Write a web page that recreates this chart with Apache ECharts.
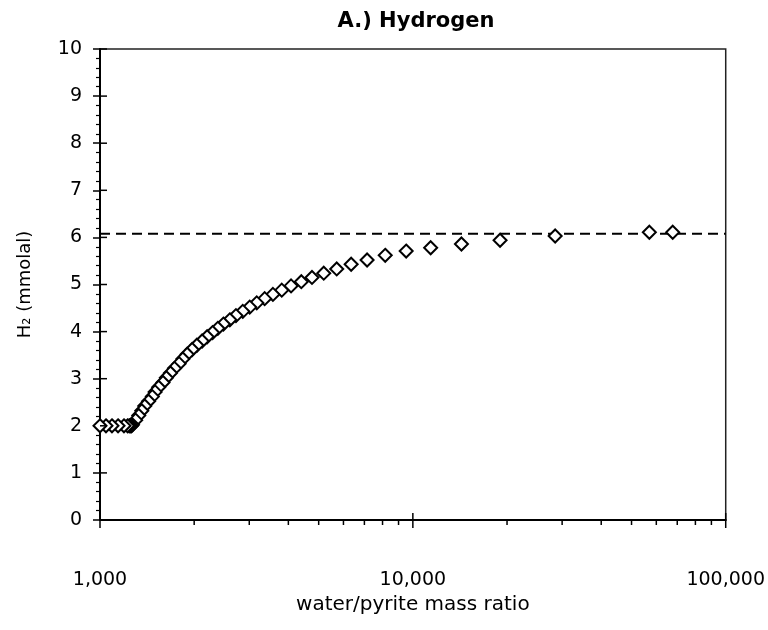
<!DOCTYPE html>
<html>
<head>
<meta charset="utf-8">
<script src="https://cdn.jsdelivr.net/npm/echarts@6/dist/echarts.min.js"></script>
<style>
  html, body { margin: 0; padding: 0; background: #fff; }
  #chart { width: 768px; height: 630px; }
</style>
</head>
<body>
<div id="chart"></div>
<script>
// Water/pyrite mass ratio (x) and dissolved H2 in mmolal (y), drawn high ratio -> low ratio
const ratio = [
  67700, 57000, 28500, 19000, 14300, 11400, 9520, 8160, 7140, 6350,
  5710, 5190, 4760, 4400, 4080, 3810, 3570, 3360, 3170, 3010,
  2860, 2720, 2600, 2480, 2380, 2290, 2200, 2120, 2040, 1970,
  1900, 1840, 1790, 1730, 1680, 1630, 1590, 1540, 1500, 1470,
  1430, 1390, 1360, 1330, 1300, 1270, 1260, 1250, 1240, 1225,
  1193, 1142, 1092, 1045, 1000
];
const h2 = [
  6.11, 6.11, 6.03, 5.94, 5.86, 5.78, 5.71, 5.62, 5.52, 5.43,
  5.33, 5.24, 5.15, 5.06, 4.97, 4.88, 4.79, 4.70, 4.61, 4.52,
  4.43, 4.34, 4.25, 4.16, 4.07, 3.98, 3.89, 3.80, 3.71, 3.62,
  3.52, 3.42, 3.32, 3.22, 3.12, 3.02, 2.92, 2.82, 2.72, 2.62,
  2.52, 2.42, 2.32, 2.22, 2.12, 2.02, 2.00, 2.00, 2.00, 2.00,
  2.00, 2.00, 2.00, 2.00, 2.00
];

// Saturation level shown as the dashed reference line
const refRatio = [1000, 100000];
const refH2 = [6.08, 6.08];

// Axis tick positions
const xMajorTicks = [1000, 10000, 100000];
const xMinorTicks = [2000, 3000, 4000, 5000, 6000, 7000, 8000, 9000,
                     20000, 30000, 40000, 50000, 60000, 70000, 80000, 90000];
const yMajorTicks = [0, 1, 2, 3, 4, 5, 6, 7, 8, 9, 10];

const FONT = 'DejaVu Sans';

const chart = echarts.init(document.getElementById('chart'), null, { renderer: 'canvas' });

const points = ratio.map((r, i) => [r, h2[i]]);
const refLine = refRatio.map((r, i) => [r, refH2[i]]);

const xTickData = xMajorTicks.map(v => [v, 0, 1]).concat(xMinorTicks.map(v => [v, 0, 0]));
const yTickData = yMajorTicks.map(v => [1000, v]);

chart.setOption({
  animation: false,
  backgroundColor: '#ffffff',
  title: {
    text: 'A.) Hydrogen',
    left: 411,
    top: 6,
    textAlign: 'center',
    textStyle: { fontFamily: FONT, fontSize: 21, fontWeight: 'bold', color: '#000' }
  },
  grid: {
    left: 100, right: 41, top: 49, bottom: 110,
    show: true, borderColor: '#222', borderWidth: 1.5, backgroundColor: 'transparent'
  },
  xAxis: {
    type: 'log',
    logBase: 10,
    min: 1000,
    max: 100000,
    name: 'water/pyrite mass ratio',
    nameLocation: 'middle',
    nameGap: 75,
    nameTextStyle: { fontFamily: FONT, fontSize: 20, color: '#000' },
    axisLine: { show: true, lineStyle: { color: '#000', width: 2 } },
    axisTick: { show: false },
    minorTick: { show: false },
    splitLine: { show: false },
    axisLabel: {
      margin: 51,
      fontFamily: FONT, fontSize: 19, color: '#000',
      formatter: v => Number(v).toLocaleString('en-US')
    }
  },
  yAxis: {
    type: 'value',
    min: 0,
    max: 10,
    interval: 1,
    name: 'H\u2082 (mmolal)',
    nameLocation: 'middle',
    nameGap: 66,
    nameTextStyle: { fontFamily: FONT, fontSize: 18, color: '#000' },
    axisLine: { show: true, lineStyle: { color: '#000', width: 2 } },
    axisTick: { show: true, inside: false, length: 7, lineStyle: { color: '#000', width: 1.5 } },
    minorTick: { show: true, splitNumber: 5, length: 4, lineStyle: { color: '#000', width: 1.2 } },
    splitLine: { show: false },
    axisLabel: { margin: 18, fontFamily: FONT, fontSize: 19, color: '#000' }
  },
  series: [
    {
      name: 'saturation',
      type: 'line',
      data: refLine,
      symbol: 'none',
      silent: true,
      z: 2,
      lineStyle: { color: '#000', width: 2, type: [10, 6] }
    },
    {
      name: 'H2',
      type: 'scatter',
      data: points,
      symbol: 'diamond',
      symbolSize: 13,
      z: 3,
      itemStyle: { color: '#ffffff', borderColor: '#000', borderWidth: 2, opacity: 1 }
    },
    {
      // x-axis ticks: decades cross the axis, 2..9 multiples hang below it
      name: 'xTicks',
      type: 'custom',
      coordinateSystem: 'cartesian2d',
      silent: true,
      clip: false,
      z: 6,
      encode: { x: 0, y: 1 },
      data: xTickData,
      renderItem: (params, api) => {
        const p = api.coord([api.value(0), api.value(1)]);
        const major = api.value(2) === 1;
        return {
          type: 'line',
          shape: { x1: p[0], y1: p[1] - (major ? 7 : 0), x2: p[0], y2: p[1] + (major ? 8 : 5) },
          style: { stroke: '#000', lineWidth: 1.5 }
        };
      }
    },
    {
      // inner half of the major y ticks
      name: 'yTicks',
      type: 'custom',
      coordinateSystem: 'cartesian2d',
      silent: true,
      clip: false,
      z: 6,
      encode: { x: 0, y: 1 },
      data: yTickData,
      renderItem: (params, api) => {
        const p = api.coord([api.value(0), api.value(1)]);
        return {
          type: 'line',
          shape: { x1: p[0], y1: p[1], x2: p[0] + 7, y2: p[1] },
          style: { stroke: '#000', lineWidth: 1.5 }
        };
      }
    }
  ]
});
</script>
</body>
</html>
